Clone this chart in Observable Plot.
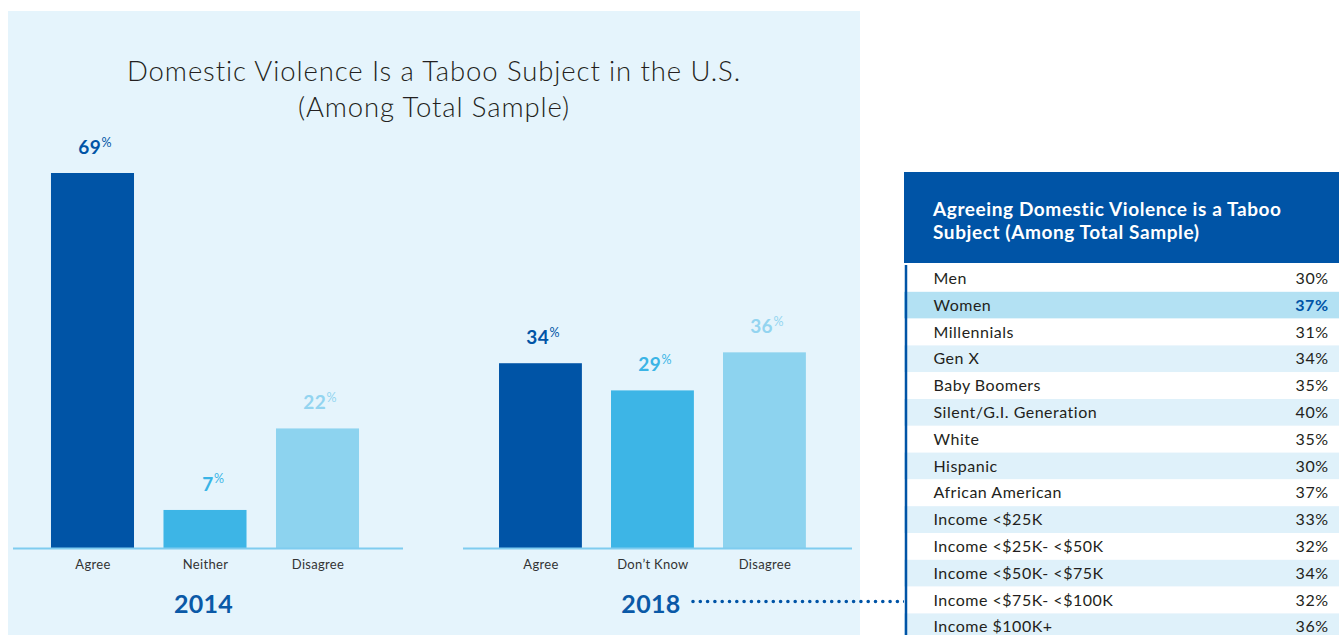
<!DOCTYPE html>
<html><head><meta charset="utf-8">
<script src="https://cdn.jsdelivr.net/npm/d3@7"></script>
<script src="https://cdn.jsdelivr.net/npm/@observablehq/plot@0.6"></script>
<style>
body{margin:0;background:#fff;font-family:Lato,"Open Sans",sans-serif;overflow:hidden}
#page{position:relative;width:1339px;height:635px;overflow:hidden}
#panel{position:absolute;left:8px;top:11px;width:852px;height:624px;background:#e5f4fc}
#title{position:absolute;left:8px;width:852px;top:53px;text-align:center;font-size:27.5px;font-weight:300;line-height:36px;color:#231f20;letter-spacing:0.9px}
.abs{position:absolute}
#thead{position:absolute;left:904px;top:172px;width:435px;height:91px;background:#0054a6;color:#fff;font-weight:700;font-size:19px;letter-spacing:0.6px;line-height:23px;box-sizing:border-box;padding:25px 0 0 29px}
</style></head>
<body>
<div id="page">
  <div id="panel"></div>
  <div id="title">Domestic Violence Is a Taboo Subject in the U.S.<br>(Among Total Sample)</div>
  <div id="c2014" class="abs" style="left:13px;top:130px"></div>
  <div id="c2018" class="abs" style="left:463px;top:130px"></div>
  <div id="conn" class="abs" style="left:693px;top:596px"></div>
  <div id="thead">Agreeing Domestic Violence is a Taboo<br>Subject (Among Total Sample)</div>
  <div id="table" class="abs" style="left:904px;top:265px"></div>
</div>
<script>
// ---- data ----
const cats2014 = ["Agree", "Neither", "Disagree"];
const vals2014 = [69, 7, 22];
const cats2018 = ["Agree", "Don’t Know", "Disagree"];
const vals2018 = [34, 29, 36];
const years = ["2014", "2018"];

const tableTitle = "Agreeing Domestic Violence is a Taboo Subject (Among Total Sample)";
const groups = ["Men", "Women", "Millennials", "Gen X", "Baby Boomers", "Silent/G.I. Generation",
  "White", "Hispanic", "African American", "Income <$25K", "Income <$25K- <$50K",
  "Income <$50K- <$75K", "Income <$75K- <$100K", "Income $100K+"];
const groupVals = [30, 37, 31, 34, 35, 40, 35, 30, 37, 33, 32, 34, 32, 36];
const highlightGroup = "Women";

// ---- styles ----
const barColors = ["#0054a6", "#3db5e6", "#8dd3ef"];
const labelColors = ["#0054a6", "#3ab4e6", "#93d4f0"];
const FONT = "Lato, 'Open Sans', sans-serif";

function barChart(cats, vals, year, width, xRange, pad) {
  const data = cats.map((c, i) => ({cat: c, v: vals[i], bar: barColors[i], lab: labelColors[i]}));
  return Plot.plot({
    width, height: 490,
    marginLeft: 0, marginRight: 0, marginTop: 0, marginBottom: 72,
    style: {background: "transparent", fontFamily: FONT, fontSize: "13px", color: "#333", letterSpacing: "0.3px"},
    color: {type: "identity"},
    x: {domain: cats, range: xRange, padding: pad, round: false, label: null, tickSize: 0, tickPadding: 11},
    y: {domain: [0, 69], range: [418, 43], axis: null},
    marks: [
      Plot.barY(data, {x: "cat", y: "v", fill: "bar"}),
      Plot.ruleY([0], {stroke: "#7fccef", strokeWidth: 2}),
      Plot.text(data, {x: "cat", y: "v", text: d => String(d.v), dy: -26, dx: 8, textAnchor: "end",
        fill: "lab", fontSize: 19, fontWeight: 700}),
      Plot.text(data, {x: "cat", y: "v", text: () => "%", dy: -31, dx: 8.5, textAnchor: "start",
        fill: "lab", fontSize: 12.5, fontWeight: 400}),
      Plot.text([year], {x: () => cats[1], y: () => 0, text: d => d, dy: 56, dx: -2,
        fill: "#0a59a7", fontSize: 25, fontWeight: 700})
    ]
  });
}

document.getElementById("c2014").appendChild(barChart(cats2014, vals2014, years[0], 390, [8.5, 375.5], 0.262));
document.getElementById("c2018").appendChild(barChart(cats2018, vals2018, years[1], 389, [6.9, 372], 0.26));

// connector dotted line
document.getElementById("conn").appendChild(Plot.plot({
  width: 212, height: 10, margin: 0,
  style: {background: "transparent", overflow: "visible"},
  y: {domain: [-1, 1], range: [10, 0], axis: null},
  marks: [Plot.ruleY([0], {stroke: "#0054a6", strokeWidth: 3.6, strokeDasharray: "0 7.3", strokeLinecap: "round"})]
}));

// table
const rows = groups.map((g, i) => ({
  label: g, v: groupVals[i], hl: g === highlightGroup,
  bg: g === highlightGroup ? "#b3e1f3" : (i % 2 === 1 ? "#dff1fa" : "#ffffff")
}));
document.getElementById("table").appendChild(Plot.plot({
  width: 435, height: 370, margin: 0,
  style: {background: "transparent", fontFamily: FONT, overflow: "visible", letterSpacing: "0.5px"},
  color: {type: "identity"},
  x: {domain: [0, 1], range: [0, 435], axis: null},
  y: {domain: groups, range: [0, 14 * 26.8], padding: 0, round: false, axis: null},
  marks: [
    Plot.barX(rows, {y: "label", x1: () => 0, x2: () => 1, fill: "bg"}),
    Plot.ruleX([0], {stroke: "#0054a6", strokeWidth: 2.5, dx: 1.5}),
    Plot.text(rows, {y: "label", x: () => 0, text: "label", dx: 29, textAnchor: "start", fill: "#231f20", fontSize: 16}),
    Plot.text(rows.filter(d => !d.hl), {y: "label", x: () => 1, text: d => d.v + "%", dx: -11, textAnchor: "end", fill: "#231f20", fontSize: 16}),
    Plot.text(rows.filter(d => d.hl), {y: "label", x: () => 1, text: d => d.v + "%", dx: -11, textAnchor: "end", fill: "#0054a6", fontSize: 16, fontWeight: 700})
  ]
}));
</script>
</body></html>
